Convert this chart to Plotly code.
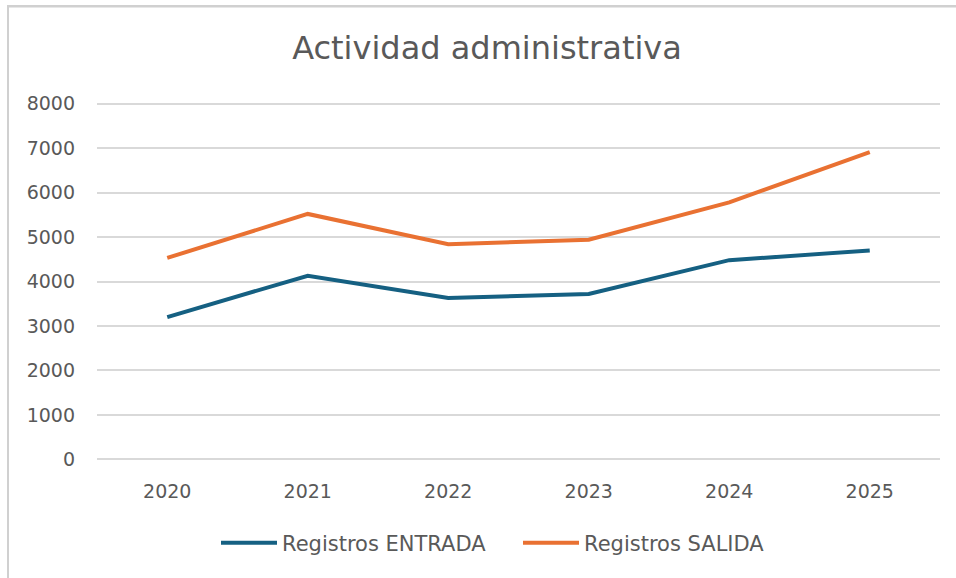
import plotly.graph_objects as go

years = ["2020", "2021", "2022", "2023", "2024", "2025"]
entrada = [3200, 4130, 3630, 3720, 4480, 4700]
salida = [4530, 5520, 4840, 4940, 5780, 6910]
y_ticks = [0, 1000, 2000, 3000, 4000, 5000, 6000, 7000, 8000]

W, H = 956, 578
ML, MR, MT, MB = 97, 16, 101, 116
pw, ph = W - ML - MR, H - MT - MB

FONT = "DejaVu Sans"
GRAY = "#595959"
FRAME = "#D0D0D0"

fig = go.Figure()
fig.add_trace(go.Scatter(x=years, y=entrada, mode="lines", name="Registros ENTRADA",
                         line=dict(color="#156082", width=4)))
fig.add_trace(go.Scatter(x=years, y=salida, mode="lines", name="Registros SALIDA",
                         line=dict(color="#E97132", width=4)))

def px_x(p):
    return (p - ML) / pw

def px_y(p):
    return 1 - (p - MT) / ph

fig.update_layout(
    width=W, height=H, autosize=False,
    margin=dict(l=ML, r=MR, t=MT, b=MB, autoexpand=False),
    paper_bgcolor="white", plot_bgcolor="white",
    font=dict(family=FONT, color=GRAY),
    title=dict(text="Actividad administrativa", x=487 / W, xanchor="center",
               y=1 - 48 / H, yanchor="middle", xref="container", yref="container",
               font=dict(family=FONT, size=32, color=GRAY)),
    xaxis=dict(type="category", range=[-0.5, len(years) - 0.5], showgrid=False,
               zeroline=False, showline=False, automargin=False,
               ticks="", tickfont=dict(size=19, color=GRAY), ticklabelstandoff=16),
    yaxis=dict(range=[-60, 8060], tickvals=y_ticks, showgrid=True, gridcolor="#D9D9D9",
               gridwidth=1.5, zeroline=False, showline=False, automargin=False, ticks="",
               tickfont=dict(size=19, color=GRAY), ticklabelstandoff=21),
    legend=dict(orientation="h", x=px_x(216), xanchor="left",
                y=px_y(543), yanchor="middle", font=dict(size=21, color=GRAY),
                itemwidth=56, entrywidth=231, tracegroupgap=0, bgcolor="rgba(0,0,0,0)"),
    showlegend=True,
    shapes=[
        dict(type="rect", xref="paper", yref="paper",
             x0=px_x(8), x1=px_x(1000), y0=px_y(7.5), y1=px_y(5),
             line=dict(width=0), fillcolor=FRAME, layer="above"),
        dict(type="line", xref="paper", yref="paper",
             x0=px_x(8), x1=px_x(8), y0=px_y(5), y1=px_y(620),
             line=dict(color=FRAME, width=2), layer="above"),
    ],
)

fig.write_html("out.html", config={"displayModeBar": False},
               post_script="document.body.style.margin='0';")
